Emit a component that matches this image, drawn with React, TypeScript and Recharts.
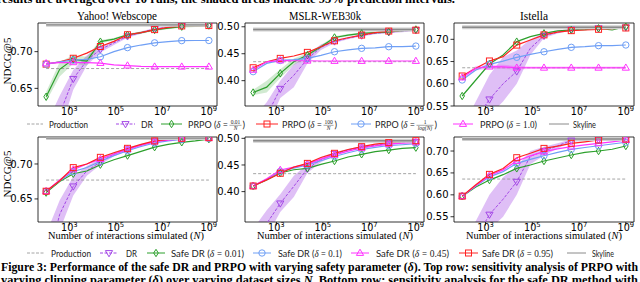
import React from 'react';
import { ComposedChart, Line, Area, XAxis, YAxis, ReferenceArea } from 'recharts';

// ---------- shared x values (dataset sizes N) ----------
const nValues = [100, 383, 1468, 5623, 21544, 82540, 316228, 1211528, 4641589, 17782794, 68129207, 261015722, 1000000000];
const xTicks = [1e3, 1e5, 1e7, 1e9];
const xDomain: [number, number] = [44.67, 2238700000];

// ---------- Top row: PRPO, Yahoo! Webscope ----------
const ytProduction = 0.677;
const ytSkyline = 0.7365;
const ytDR = [0.56, 0.615, 0.663, 0.688, 0.703, 0.712, 0.721, 0.726, 0.731, 0.733, 0.735, 0.7355, 0.736];
const ytDRLow = [0.5, 0.59, 0.648, 0.681, 0.699, 0.709, 0.719, 0.7245, 0.7295, 0.7315, 0.7335, 0.734, 0.7345];
const ytDRHigh = [0.6, 0.64, 0.675, 0.695, 0.707, 0.715, 0.723, 0.7275, 0.7325, 0.7345, 0.7365, 0.737, 0.7375];
const ytD001 = [0.6386, 0.676, 0.6895, 0.687, 0.7136, 0.717, 0.723, 0.726, 0.7295, 0.732, 0.734, 0.735, 0.7355];
const ytD001Low = [0.632, 0.666, 0.684, 0.681, 0.711, 0.7155, 0.7215, 0.7245, 0.728, 0.7305, 0.7325, 0.7335, 0.734];
const ytD001High = [0.645, 0.686, 0.695, 0.693, 0.716, 0.7185, 0.7245, 0.7275, 0.731, 0.7335, 0.7355, 0.7365, 0.737];
const ytD100 = [0.683, 0.686, 0.691, 0.698, 0.707, 0.714, 0.723, 0.726, 0.73, 0.733, 0.735, 0.7355, 0.7355];
const ytDLog = [0.683, 0.686, 0.6886, 0.6895, 0.693, 0.7, 0.7055, 0.709, 0.712, 0.7136, 0.715, 0.7152, 0.7152];
const ytD1 = [0.684, 0.685, 0.6855, 0.685, 0.6845, 0.682, 0.681, 0.68, 0.6795, 0.6795, 0.6795, 0.6795, 0.6795];

// ---------- Top row: PRPO, MSLR-WEB30k ----------
const mtProduction = 0.4352;
const mtSkyline = 0.495;
const mtDR = [0.3, 0.335, 0.385, 0.41, 0.44, 0.462, 0.473, 0.479, 0.484, 0.488, 0.49, 0.492, 0.494];
const mtDRLow = [0.27, 0.31, 0.368, 0.388, 0.432, 0.457, 0.47, 0.477, 0.482, 0.486, 0.488, 0.49, 0.492];
const mtDRHigh = [0.33, 0.36, 0.4, 0.43, 0.448, 0.467, 0.476, 0.481, 0.486, 0.49, 0.492, 0.494, 0.496];
const mtD001 = [0.378, 0.388, 0.4136, 0.435, 0.4475, 0.463, 0.4802, 0.4846, 0.4877, 0.489, 0.4907, 0.493, 0.495];
const mtD001Low = [0.373, 0.378, 0.405, 0.429, 0.444, 0.46, 0.478, 0.4825, 0.486, 0.487, 0.489, 0.491, 0.493];
const mtD001High = [0.383, 0.4, 0.421, 0.441, 0.451, 0.466, 0.4825, 0.4865, 0.4895, 0.491, 0.4925, 0.495, 0.497];
const mtD100 = [0.424, 0.435, 0.4414, 0.4457, 0.4525, 0.463, 0.474, 0.4796, 0.4846, 0.489, 0.492, 0.4932, 0.4938];
const mtDLog = [0.4167, 0.432, 0.4375, 0.439, 0.4414, 0.447, 0.4537, 0.457, 0.46, 0.461, 0.463, 0.463, 0.4642];
const mtD1 = [0.42, 0.435, 0.4375, 0.437, 0.437, 0.4365, 0.4365, 0.4365, 0.4365, 0.4365, 0.4365, 0.4365, 0.4365];

// ---------- Top row: PRPO, Istella ----------
const itProduction = 0.636;
const itSkyline = 0.727;
const itDR = [0.45, 0.52, 0.565, 0.6, 0.628, 0.68, 0.708, 0.716, 0.722, 0.724, 0.725, 0.726, 0.727];
const itDRLow = [0.4, 0.48, 0.53, 0.56, 0.6, 0.665, 0.703, 0.713, 0.72, 0.722, 0.723, 0.724, 0.725];
const itDRHigh = [0.5, 0.56, 0.62, 0.66, 0.675, 0.7, 0.714, 0.719, 0.724, 0.726, 0.727, 0.728, 0.729];
const itD001 = [0.5725, 0.6085, 0.6445, 0.6647, 0.6948, 0.706, 0.7135, 0.719, 0.721, 0.722, 0.7248, 0.721, 0.7285];
const itD100 = [0.6175, 0.635, 0.6513, 0.661, 0.687, 0.6985, 0.71, 0.716, 0.7195, 0.721, 0.7225, 0.724, 0.7255];
const itDLog = [0.6085, 0.631, 0.6437, 0.651, 0.6595, 0.666, 0.672, 0.6775, 0.682, 0.6835, 0.6857, 0.686, 0.6872];
const itD1 = [0.614, 0.635, 0.6385, 0.638, 0.636, 0.636, 0.636, 0.636, 0.636, 0.636, 0.636, 0.636, 0.636];
const itD1Low = [0.61, 0.63, 0.634, 0.633, 0.632, 0.633, 0.633, 0.633, 0.633, 0.633, 0.633, 0.633, 0.633];
const itD1High = [0.618, 0.64, 0.643, 0.643, 0.64, 0.639, 0.639, 0.639, 0.639, 0.639, 0.639, 0.639, 0.639];

// ---------- Bottom row: safe DR, Yahoo! Webscope ----------
const ybProduction = 0.677;
const ybSkyline = 0.737;
const ybDR = [0.55, 0.628, 0.668, 0.69, 0.703, 0.714, 0.721, 0.727, 0.732, 0.735, 0.736, 0.737, 0.737];
const ybDRLow = [0.5, 0.605, 0.655, 0.683, 0.699, 0.711, 0.719, 0.7255, 0.7305, 0.7335, 0.7345, 0.7355, 0.7355];
const ybDRHigh = [0.6, 0.648, 0.682, 0.697, 0.707, 0.717, 0.723, 0.7285, 0.7335, 0.7365, 0.7375, 0.7385, 0.7385];
const ybS001 = [0.659, 0.675, 0.686, 0.69, 0.699, 0.706, 0.712, 0.718, 0.724, 0.728, 0.731, 0.733, 0.7355];
const ybS01 = [0.661, 0.676, 0.689, 0.695, 0.704, 0.712, 0.719, 0.725, 0.73, 0.733, 0.735, 0.736, 0.7365];
const ybS045 = [0.661, 0.677, 0.692, 0.7, 0.707, 0.714, 0.721, 0.727, 0.732, 0.734, 0.736, 0.7365, 0.737];
const ybS095 = [0.661, 0.676, 0.6948, 0.7, 0.7095, 0.716, 0.7224, 0.728, 0.733, 0.735, 0.7367, 0.737, 0.7376];

// ---------- Bottom row: safe DR, MSLR-WEB30k ----------
const mbProduction = 0.4337;
const mbSkyline = 0.4956;
const mbDR = [0.3, 0.34, 0.378, 0.41, 0.443, 0.46, 0.471, 0.478, 0.483, 0.487, 0.49, 0.492, 0.4935];
const mbDRLow = [0.27, 0.315, 0.362, 0.39, 0.435, 0.455, 0.468, 0.476, 0.481, 0.485, 0.488, 0.49, 0.4915];
const mbDRHigh = [0.33, 0.365, 0.395, 0.43, 0.451, 0.465, 0.474, 0.48, 0.485, 0.489, 0.492, 0.494, 0.4955];
const mbS001 = [0.4106, 0.422, 0.435, 0.441, 0.4437, 0.451, 0.4575, 0.465, 0.47, 0.475, 0.478, 0.481, 0.4825];
const mbS01 = [0.4106, 0.423, 0.438, 0.444, 0.45, 0.458, 0.466, 0.473, 0.479, 0.483, 0.4865, 0.488, 0.49];
const mbS045 = [0.4106, 0.424, 0.4406, 0.446, 0.4515, 0.461, 0.469, 0.476, 0.482, 0.486, 0.489, 0.491, 0.4925];
const mbS095 = [0.4106, 0.422, 0.4344, 0.446, 0.453, 0.464, 0.4719, 0.479, 0.4844, 0.489, 0.492, 0.494, 0.4956];

// ---------- Bottom row: safe DR, Istella ----------
const ibProduction = 0.636;
const ibSkyline = 0.7274;
const ibDR = [0.45, 0.5, 0.555, 0.59, 0.63, 0.688, 0.7, 0.712, 0.724, 0.725, 0.726, 0.727, 0.727];
const ibDRLow = [0.4, 0.47, 0.52, 0.55, 0.6, 0.67, 0.69, 0.706, 0.721, 0.723, 0.724, 0.725, 0.725];
const ibDRHigh = [0.5, 0.54, 0.6, 0.64, 0.665, 0.7, 0.71, 0.718, 0.727, 0.727, 0.728, 0.729, 0.729];
const ibS001 = [0.597, 0.618, 0.6337, 0.646, 0.6604, 0.668, 0.6772, 0.684, 0.6909, 0.697, 0.7, 0.704, 0.7114];
const ibS01 = [0.597, 0.62, 0.641, 0.653, 0.6718, 0.681, 0.6893, 0.697, 0.7038, 0.708, 0.712, 0.716, 0.72];
const ibS045 = [0.597, 0.621, 0.644, 0.657, 0.6772, 0.689, 0.6985, 0.705, 0.71, 0.714, 0.7175, 0.721, 0.725];
const ibS095 = [0.597, 0.623, 0.6467, 0.66, 0.6848, 0.695, 0.706, 0.711, 0.7175, 0.721, 0.7251, 0.7265, 0.7274];

// ---------- styles ----------
const C_DR = '#a347e6';
const C_G = '#2ca02c';
const C_R = '#ff2222';
const C_B = '#6f9ff5';
const C_M = '#ff33ff';
const C_PROD = '#9a9a9a';
const C_SKY = '#8a8a8a';
const SERIF = '"Liberation Serif", "DejaVu Serif", serif';
const SANS = 'Lato, "DejaVu Sans", sans-serif';
const TICKF = '"DejaVu Sans", sans-serif';

type Shape = 'triDown' | 'triUp' | 'square' | 'circle' | 'diamond';

function Marker({ shape, cx, cy, color }: { shape: Shape; cx: number; cy: number; color: string }) {
  const common = { fill: 'none', stroke: color, strokeWidth: 1 };
  switch (shape) {
    case 'square':
      return <rect x={cx - 3} y={cy - 3} width={6} height={6} {...common} />;
    case 'circle':
      return <circle cx={cx} cy={cy} r={3.2} {...common} />;
    case 'diamond':
      return <polygon points={`${cx},${cy - 3.7} ${cx + 2.3},${cy} ${cx},${cy + 3.7} ${cx - 2.3},${cy}`} {...common} />;
    case 'triUp':
      return <polygon points={`${cx},${cy - 3.8} ${cx + 3.6},${cy + 2.4} ${cx - 3.6},${cy + 2.4}`} {...common} />;
    case 'triDown':
    default:
      return <polygon points={`${cx},${cy + 3.8} ${cx + 3.6},${cy - 2.4} ${cx - 3.6},${cy - 2.4}`} {...common} />;
  }
}

function makeDot(shape: Shape, color: string) {
  return (props: any) => {
    const { cx, cy, index } = props;
    if (index % 2 !== 0 || cx == null || cy == null || isNaN(cx) || isNaN(cy)) return <g key={`d${index}`} />;
    return (
      <g key={`d${index}`}>
        <Marker shape={shape} cx={cx} cy={cy} color={color} />
      </g>
    );
  };
}

type SeriesDef = {
  key: string;
  color: string;
  shape: Shape;
  dashed?: boolean;
  values: number[];
  low?: number[];
  high?: number[];
  bandOpacity?: number;
};

type PanelDef = {
  id: string;
  left: number;
  top: number;
  width: number;
  height: number;
  domain: [number, number];
  yTicks: number[];
  production: number;
  skyline: number;
  series: SeriesDef[];
};

const XTick = (props: any) => {
  const { x, y, payload } = props;
  const e = Math.round(Math.log10(payload.value));
  return (
    <text x={x} y={y + 3.2} textAnchor="middle" fontFamily={TICKF} fontSize={9.6} fill="#000">
      10<tspan dy={-4} fontSize={6.8}>{e}</tspan>
    </text>
  );
};

function Panel({ p }: { p: PanelDef }) {
  const data = nValues.map((n, i) => {
    const row: any = { n, production: p.production, skyline: p.skyline };
    p.series.forEach((s) => {
      row[s.key] = s.values[i];
      if (s.low && s.high) row[s.key + 'Band'] = [s.low[i], s.high[i]];
    });
    return row;
  });
  const ml = 40;
  const mr = 10;
  const mt = 5;
  const mb = 22;
  return (
    <div style={{ position: 'absolute', left: p.left - ml, top: p.top - mt }}>
      <ComposedChart
        width={p.width + ml + mr}
        height={p.height + mt + mb}
        data={data}
        margin={{ top: mt, right: 5, bottom: 2, left: 4 }}
      >
        <XAxis
          dataKey="n"
          type="number"
          scale="log"
          domain={xDomain}
          allowDataOverflow
          ticks={xTicks}
          interval={0}
          tick={(tp: any) => <XTick {...tp} />}
          tickSize={3.5}
          axisLine={false}
          tickLine={{ stroke: '#000', strokeWidth: 0.8 }}
          height={20}
        />
        <YAxis
          type="number"
          domain={p.domain}
          allowDataOverflow
          ticks={p.yTicks}
          interval={0}
          tickFormatter={(v: number) => v.toFixed(2)}
          tick={{ fontSize: 10, fontFamily: TICKF, fill: '#000' }}
          tickSize={3.5}
          axisLine={false}
          tickLine={{ stroke: '#000', strokeWidth: 0.8 }}
          width={36}
        />
        <YAxis
          yAxisId="r"
          orientation="right"
          type="number"
          domain={p.domain}
          allowDataOverflow
          ticks={p.yTicks}
          interval={0}
          tick={false}
          tickSize={3.5}
          axisLine={false}
          tickLine={{ stroke: '#000', strokeWidth: 0.8 }}
          width={5}
        />
        {p.series
          .filter((s) => s.low && s.high)
          .map((s) => (
            <Area
              key={s.key + 'Band'}
              dataKey={s.key + 'Band'}
              stroke="none"
              fill={s.color}
              fillOpacity={s.bandOpacity ?? 0.3}
              isAnimationActive={false}
              activeDot={false}
            />
          ))}
        <Line
          dataKey="production"
          stroke={C_PROD}
          strokeWidth={0.9}
          strokeDasharray="3 2"
          dot={false}
          activeDot={false}
          isAnimationActive={false}
        />
        {p.series.map((s) => (
          <Line
            key={s.key}
            dataKey={s.key}
            stroke={s.color}
            strokeWidth={s.dashed ? 1 : 1.2}
            strokeDasharray={s.dashed ? '3 1.5' : undefined}
            dot={makeDot(s.shape, s.color)}
            activeDot={false}
            isAnimationActive={false}
          />
        ))}
        <Line dataKey="skyline" stroke="#cfcfcf" strokeWidth={4} dot={false} activeDot={false} isAnimationActive={false} />
        <Line dataKey="skyline" stroke={C_SKY} strokeWidth={1.4} dot={false} activeDot={false} isAnimationActive={false} />
        <ReferenceArea
          x1={xDomain[0]}
          x2={xDomain[1]}
          y1={p.domain[0]}
          y2={p.domain[1]}
          fill="none"
          stroke="#000"
          strokeWidth={0.8}
          ifOverflow="visible"
        />
      </ComposedChart>
    </div>
  );
}

const topRow = (
  id: string,
  left: number,
  width: number,
  domain: [number, number],
  yTicks: number[],
  production: number,
  skyline: number,
  dr: number[],
  drLow: number[],
  drHigh: number[],
  d001: number[],
  d100: number[],
  dlog: number[],
  d1: number[],
  extra: { gLow?: number[]; gHigh?: number[]; mLow?: number[]; mHigh?: number[] }
): PanelDef => ({
  id,
  left,
  top: 23,
  width,
  height: 83,
  domain,
  yTicks,
  production,
  skyline,
  series: [
    { key: 'dr', color: C_DR, shape: 'triDown', dashed: true, values: dr, low: drLow, high: drHigh, bandOpacity: 0.35 },
    { key: 'g', color: C_G, shape: 'diamond', values: d001, low: extra.gLow, high: extra.gHigh, bandOpacity: 0.22 },
    { key: 'r', color: C_R, shape: 'square', values: d100 },
    { key: 'b', color: C_B, shape: 'circle', values: dlog },
    { key: 'm', color: C_M, shape: 'triUp', values: d1, low: extra.mLow, high: extra.mHigh, bandOpacity: 0.3 },
  ],
});

const bottomRow = (
  id: string,
  left: number,
  width: number,
  domain: [number, number],
  yTicks: number[],
  production: number,
  skyline: number,
  dr: number[],
  drLow: number[],
  drHigh: number[],
  s001: number[],
  s01: number[],
  s045: number[],
  s095: number[]
): PanelDef => ({
  id,
  left,
  top: 137,
  width,
  height: 85,
  domain,
  yTicks,
  production,
  skyline,
  series: [
    { key: 'dr', color: C_DR, shape: 'triDown', dashed: true, values: dr, low: drLow, high: drHigh, bandOpacity: 0.35 },
    { key: 'g', color: C_G, shape: 'diamond', values: s001 },
    { key: 'b', color: C_B, shape: 'circle', values: s01 },
    { key: 'm', color: C_M, shape: 'triUp', values: s045 },
    { key: 'r', color: C_R, shape: 'square', values: s095 },
  ],
});

const panels: PanelDef[] = [
  topRow('yt', 38, 179, [0.626, 0.739], [0.65, 0.7], ytProduction, ytSkyline, ytDR, ytDRLow, ytDRHigh, ytD001, ytD100, ytDLog, ytD1, { gLow: ytD001Low, gHigh: ytD001High }),
  topRow('mt', 245, 179, [0.353, 0.507], [0.4, 0.45, 0.5], mtProduction, mtSkyline, mtDR, mtDRLow, mtDRHigh, mtD001, mtD100, mtDLog, mtD1, { gLow: mtD001Low, gHigh: mtD001High }),
  topRow('it', 454, 180, [0.55, 0.7367], [0.55, 0.6, 0.65, 0.7], itProduction, itSkyline, itDR, itDRLow, itDRHigh, itD001, itD100, itDLog, itD1, { mLow: itD1Low, mHigh: itD1High }),
  bottomRow('yb', 38, 179, [0.617, 0.7386], [0.65, 0.7], ybProduction, ybSkyline, ybDR, ybDRLow, ybDRHigh, ybS001, ybS01, ybS045, ybS095),
  bottomRow('mb', 245, 179, [0.343, 0.5025], [0.4, 0.45, 0.5], mbProduction, mbSkyline, mbDR, mbDRLow, mbDRHigh, mbS001, mbS01, mbS045, mbS095),
  bottomRow('ib', 454, 180, [0.538, 0.732], [0.55, 0.6, 0.65, 0.7], ibProduction, ibSkyline, ibDR, ibDRLow, ibDRHigh, ibS001, ibS01, ibS045, ibS095),
];

// ---------- legend / text ----------
const titles = ['Yahoo! Webscope', 'MSLR-WEB30k', 'Istella'];
const titleCenters = [117, 325, 534];
const titleWidths = [80, 72, 28];
const xLabelCenters = [126, 335, 544];

function LegendSwatch({ x1, x2, y, color, dashed, shape, width = 1 }: any) {
  return (
    <g>
      <line x1={x1} x2={x2} y1={y} y2={y} stroke={color} strokeWidth={width} strokeDasharray={dashed ? '3 1.5' : undefined} />
      {shape && <Marker shape={shape} cx={(x1 + x2) / 2} cy={y} color={color} />}
    </g>
  );
}

function Frac({ x, y, num, den, w }: { x: number; y: number; num: string; den: string; w: number }) {
  return (
    <g fontFamily={SERIF} fontSize={5.5} fill="#222">
      <text x={x + w / 2} y={y - 3.2} textAnchor="middle">{num}</text>
      <line x1={x} x2={x + w} y1={y - 2.2} y2={y - 2.2} stroke="#222" strokeWidth={0.4} />
      <text x={x + w / 2} y={y + 2.6} textAnchor="middle" fontStyle="italic">{den}</text>
    </g>
  );
}

function PRPOFrac({ x, y, num, den, fw }: any) {
  const w1 = 40;
  return (
    <g>
      <text x={x} y={y} fontFamily={SANS} fontSize={9.5} fill="#222" textLength={w1} lengthAdjust="spacingAndGlyphs">
        PRPO (<tspan fontFamily={SERIF} fontStyle="italic">δ</tspan> = 
      </text>
      <Frac x={x + w1 + 1.5} y={y} num={num} den={den} w={fw} />
      <text x={x + w1 + fw + 2.5} y={y} fontFamily={SANS} fontSize={9.5} fill="#222">)</text>
    </g>
  );
}

function Overlay() {
  const tY = 127.5;
  const bY = 256.5;
  const ly1 = 124;
  const ly2 = 253;
  return (
    <svg width={640} height={282} style={{ position: 'absolute', left: 0, top: 0, pointerEvents: 'none' }}>
      {/* cropped end of the previous caption */}
      <text x={-3} y={2.5} fontFamily={SERIF} fontWeight="bold" fontSize={11.5} fill="#000" textLength={458} lengthAdjust="spacingAndGlyphs">
        results are averaged over 10 runs, the shaded areas indicate 95% prediction intervals.
      </text>

      {titles.map((t, i) => (
        <text key={t} x={titleCenters[i] - titleWidths[i] / 2} y={19.5} fontFamily={SERIF} fontSize={12} fill="#000" textLength={titleWidths[i]} lengthAdjust="spacingAndGlyphs">
          {t}
        </text>
      ))}

      {[61, 174].map((cy) => (
        <text key={cy} x={0} y={0} transform={`translate(10.5, ${cy}) rotate(-90)`} textAnchor="middle" fontFamily={SERIF} fontSize={11} fill="#000">
          NDCG@5
        </text>
      ))}

      {xLabelCenters.map((cx) => (
        <text key={cx} x={cx - 78} y={239} fontFamily={SERIF} fontSize={10.5} fill="#000" textLength={156} lengthAdjust="spacingAndGlyphs">
          Number of interactions simulated (<tspan fontStyle="italic">N</tspan>)
        </text>
      ))}

      {/* top legend */}
      <LegendSwatch x1={27} x2={43} y={ly1} color={C_PROD} dashed width={0.9} />
      <text x={49} y={tY} fontFamily={SANS} fontSize={9.5} fill="#222" textLength={39} lengthAdjust="spacingAndGlyphs">Production</text>
      <LegendSwatch x1={116} x2={135} y={ly1} color={C_DR} dashed shape="triDown" />
      <text x={141} y={tY} fontFamily={SANS} fontSize={9.5} fill="#222" textLength={12} lengthAdjust="spacingAndGlyphs">DR</text>
      <LegendSwatch x1={161} x2={182} y={ly1} color={C_G} shape="diamond" />
      <PRPOFrac x={188} y={tY} num="0.01" den="N" fw={12} />
      <LegendSwatch x1={256} x2={278} y={ly1} color={C_R} shape="square" />
      <PRPOFrac x={282} y={tY} num="100" den="N" fw={10} />
      <LegendSwatch x1={351} x2={371} y={ly1} color={C_B} shape="circle" />
      <PRPOFrac x={375} y={tY} num="1" den="log(N)" fw={17} />
      <LegendSwatch x1={453} x2={473} y={ly1} color={C_M} shape="triUp" />
      <text x={480} y={tY} fontFamily={SANS} fontSize={9.5} fill="#222" textLength={57} lengthAdjust="spacingAndGlyphs">
        PRPO (<tspan fontFamily={SERIF} fontStyle="italic">δ</tspan> = <tspan fontFamily={SERIF}>1.0</tspan>)
      </text>
      <LegendSwatch x1={549} x2={569} y={ly1} color={C_SKY} />
      <text x={573} y={tY} fontFamily={SANS} fontSize={9.5} fill="#222" textLength={23} lengthAdjust="spacingAndGlyphs">Skyline</text>

      {/* bottom legend */}
      <LegendSwatch x1={27} x2={45} y={ly2} color={C_PROD} dashed width={0.9} />
      <text x={51} y={bY} fontFamily={SANS} fontSize={9.5} fill="#222" textLength={40} lengthAdjust="spacingAndGlyphs">Production</text>
      <LegendSwatch x1={100} x2={118} y={ly2} color={C_DR} dashed shape="triDown" />
      <text x={126} y={bY} fontFamily={SANS} fontSize={9.5} fill="#222" textLength={11} lengthAdjust="spacingAndGlyphs">DR</text>
      <LegendSwatch x1={147} x2={165} y={ly2} color={C_G} shape="diamond" />
      <text x={171} y={bY} fontFamily={SANS} fontSize={9.5} fill="#222" textLength={73} lengthAdjust="spacingAndGlyphs">
        Safe DR (<tspan fontFamily={SERIF} fontStyle="italic">δ</tspan> = <tspan fontFamily={SERIF}>0.01</tspan>)
      </text>
      <LegendSwatch x1={253} x2={271} y={ly2} color={C_B} shape="circle" />
      <text x={278} y={bY} fontFamily={SANS} fontSize={9.5} fill="#222" textLength={64} lengthAdjust="spacingAndGlyphs">
        Safe DR (<tspan fontFamily={SERIF} fontStyle="italic">δ</tspan> = <tspan fontFamily={SERIF}>0.1</tspan>)
      </text>
      <LegendSwatch x1={351} x2={369} y={ly2} color={C_M} shape="triUp" />
      <text x={376} y={bY} fontFamily={SANS} fontSize={9.5} fill="#222" textLength={73} lengthAdjust="spacingAndGlyphs">
        Safe DR (<tspan fontFamily={SERIF} fontStyle="italic">δ</tspan> = <tspan fontFamily={SERIF}>0.45</tspan>)
      </text>
      <LegendSwatch x1={459} x2={478} y={ly2} color={C_R} shape="square" />
      <text x={482} y={bY} fontFamily={SANS} fontSize={9.5} fill="#222" textLength={71} lengthAdjust="spacingAndGlyphs">
        Safe DR (<tspan fontFamily={SERIF} fontStyle="italic">δ</tspan> = <tspan fontFamily={SERIF}>0.95</tspan>)
      </text>
      <LegendSwatch x1={567} x2={586} y={ly2} color={C_SKY} />
      <text x={592} y={bY} fontFamily={SANS} fontSize={9.5} fill="#222" textLength={22} lengthAdjust="spacingAndGlyphs">Skyline</text>

      {/* caption */}
      <text x={1} y={271} fontFamily={SERIF} fontWeight="bold" fontSize={11.5} fill="#000" textLength={637} lengthAdjust="spacingAndGlyphs">
        Figure 3: Performance of the safe DR and PRPO with varying safety parameter (<tspan fontStyle="italic">δ</tspan>). Top row: sensitivity analysis of PRPO with
      </text>
      <text x={1} y={284} fontFamily={SERIF} fontWeight="bold" fontSize={11.5} fill="#000" textLength={637} lengthAdjust="spacingAndGlyphs">
        varying clipping parameter (<tspan fontStyle="italic">δ</tspan>) over varying dataset sizes <tspan fontStyle="italic">N</tspan>. Bottom row: sensitivity analysis for the safe DR method with
      </text>
    </svg>
  );
}

export default function App() {
  return (
    <div style={{ position: 'fixed', left: 0, top: 0, width: 640, height: 282, overflow: 'hidden', background: '#fff' }}>
      {panels.map((p) => (
        <Panel key={p.id} p={p} />
      ))}
      <Overlay />
    </div>
  );
}
